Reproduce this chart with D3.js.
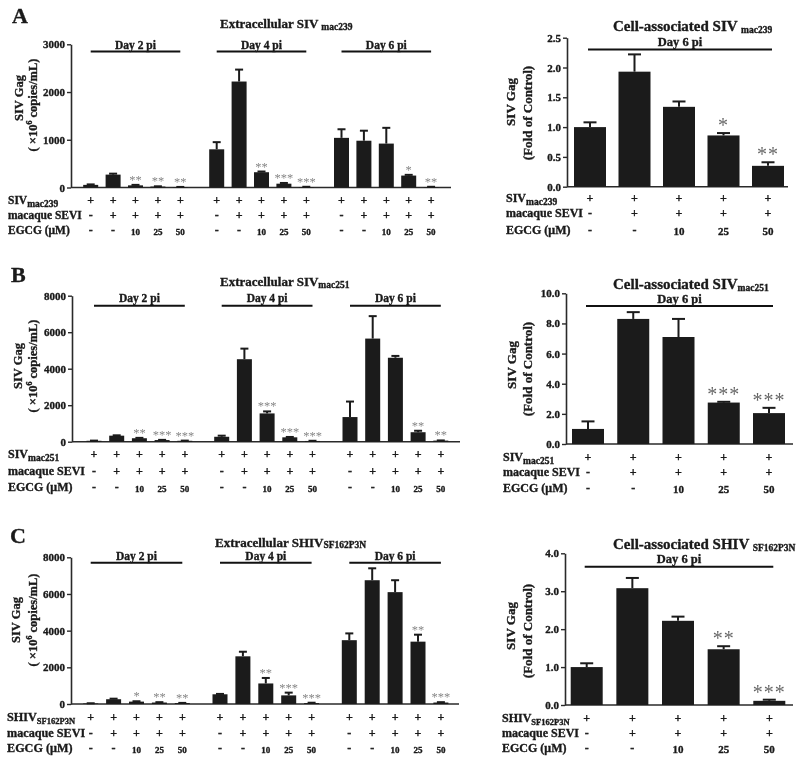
<!DOCTYPE html>
<html><head><meta charset="utf-8">
<script src="https://cdn.jsdelivr.net/npm/d3@7"></script>
<style>
body{margin:0;background:#fff}
svg{display:block;filter:grayscale(1)}
text{font-family:"Liberation Serif","Times New Roman",serif;font-weight:bold;fill:#1a1a1a;stroke:#1a1a1a;stroke-width:0.35px}
text.star{stroke:none}
</style>
</head><body>
<svg id="c" width="800" height="762"></svg>
<script>
// ---------- data ----------
const days = ["Day 2 pi", "Day 4 pi", "Day 6 pi"];
const virusRow = ["+", "+", "+", "+", "+"];
const seviRow = ["-", "+", "+", "+", "+"];
const egcgRow = ["-", "-", "10", "25", "50"];
const rowNames = ["macaque SEVI", "EGCG (\u03bcM)"];

// Panel A: extracellular SIVmac239 (x10^6 copies/mL), per day
const extA = [[55, 270, 45, 20, 10], [800, 2220, 320, 80, 10], [1040, 980, 920, 250, 10]];
const extAErr = [[65, 290, 55, 25, 12], [950, 2470, 335, 95, 15], [1220, 1190, 1250, 265, 15]];
const extAStars = [["", "", "**", "**", "**"], ["", "", "**", "***", "***"], ["", "", "", "*", "**"]];
const extATicks = [0, 1000, 2000, 3000];
// Panel A: cell-associated (fold of control)
const cellA = [1.0, 1.93, 1.34, 0.86, 0.35];
const cellAErr = [1.08, 2.22, 1.43, 0.90, 0.41];
const cellAStars = ["", "", "", "*", "**"];
const cellATicks = [0, 0.5, 1.0, 1.5, 2.0, 2.5];

// Panel B: SIVmac251
const extB = [[50, 330, 190, 90, 50], [270, 4520, 1550, 240, 40], [1350, 5650, 4600, 520, 60]];
const extBErr = [[60, 350, 210, 100, 60], [330, 5100, 1660, 260, 50], [2200, 6880, 4700, 600, 70]];
const extBStars = [["", "", "**", "***", "***"], ["", "", "***", "***", "***"], ["", "", "", "**", "**"]];
const extBTicks = [0, 2000, 4000, 6000, 8000];
const cellB = [1.0, 8.3, 7.1, 2.75, 2.05];
const cellBErr = [1.5, 8.75, 8.3, 2.8, 2.4];
const cellBStars = ["", "", "", "***", "***"];
const cellBTicks = [0, 2, 4, 6, 8, 10];

// Panel C: SHIVSF162P3N
const extC = [[30, 260, 130, 80, 50], [530, 2600, 1120, 470, 50], [3480, 6750, 6100, 3400, 80]];
const extCErr = [[40, 290, 150, 100, 60], [550, 2850, 1420, 620, 70], [3850, 7400, 6750, 3780, 100]];
const extCStars = [["", "", "*", "**", "**"], ["", "", "**", "***", "***"], ["", "", "", "**", "***"]];
const extCTicks = [0, 2000, 4000, 6000, 8000];
const cellC = [1.0, 3.08, 2.22, 1.47, 0.11];
const cellCErr = [1.1, 3.35, 2.33, 1.55, 0.14];
const cellCStars = ["", "", "", "**", "***"];
const cellCTicks = [0, 1, 2, 3, 4];

// ---------- drawing ----------
const svg = d3.select("#c");
const BAR = "#1b1b1b";
const AX = "#2a2a2a";

function subText(g, x, y, main, sub, fs, sfs, dy, anchor) {
  const t = g.append("text").attr("x", x).attr("y", y).attr("font-size", fs)
    .attr("text-anchor", anchor || "start");
  t.append("tspan").text(main);
  t.append("tspan").attr("font-size", sfs).attr("dy", dy).text(sub);
  return t;
}

function yLabel(g, x, y, fs) {
  return g.append("text").attr("transform", `translate(${x},${y}) rotate(-90)`)
    .attr("text-anchor", "middle").attr("font-size", fs);
}

function drawAxis(g, cfg, y) {
  const ax = d3.axisLeft(y).tickValues(cfg.ticks).tickSize(4).tickSizeOuter(0).tickPadding(2)
    .tickFormat(cfg.fmt);
  const ga = g.append("g").attr("transform", `translate(${cfg.axisX},0)`).call(ax);
  ga.select(".domain").attr("stroke", AX).attr("stroke-width", 1.6);
  ga.selectAll(".tick line").attr("stroke", AX).attr("stroke-width", 1.4);
  ga.selectAll(".tick text").attr("font-size", cfg.tickFs).attr("fill", "#1a1a1a");
  g.append("line").attr("x1", cfg.axisX).attr("x2", cfg.xEnd).attr("y1", cfg.y0).attr("y2", cfg.y0)
    .attr("stroke", AX).attr("stroke-width", 1.6);
}

function drawBars(g, xs, vals, errs, stars, y, bw, capw, starFs, starOp, starSp) {
  const sg = g.append("g").attr("opacity", starOp);
  vals.forEach((v, i) => {
    const cx = xs(i);
    g.append("rect").attr("x", cx - bw / 2).attr("y", y(v)).attr("width", bw)
      .attr("height", y(0) - y(v)).attr("fill", BAR);
    g.append("line").attr("x1", cx).attr("x2", cx).attr("y1", y(v)).attr("y2", y(errs[i]))
      .attr("stroke", BAR).attr("stroke-width", 2);
    g.append("line").attr("x1", cx - capw / 2).attr("x2", cx + capw / 2)
      .attr("y1", y(errs[i])).attr("y2", y(errs[i])).attr("stroke", BAR).attr("stroke-width", 2);
    if (stars[i]) {
      sg.append("text").attr("class", "star").attr("x", cx).attr("y", y(errs[i]) - 1)
        .attr("text-anchor", "middle")
        .attr("font-size", starFs).attr("letter-spacing", starSp).style("fill", "#000")
        .style("font-weight", "normal").text(stars[i]);
    }
  });
}

function drawRows(g, cfg, centers) {
  subText(g, cfg.rowX, cfg.rowY[0], cfg.virusMain, cfg.virusSub, cfg.rowFs, cfg.rowSubFs, 3);
  g.append("text").attr("x", cfg.rowX).attr("y", cfg.rowY[1]).attr("font-size", cfg.rowFs).text(rowNames[0]);
  g.append("text").attr("x", cfg.rowX).attr("y", cfg.rowY[2]).attr("font-size", cfg.rowFs).text(rowNames[1]);
  const rows = [virusRow, seviRow, egcgRow];
  centers.forEach(cx => {
    rows.forEach((r, k) => {
      r.forEach((s, i) => {
        const isNum = s.length > 1;
        g.append("text").attr("x", cx(i)).attr("y", cfg.rowY[k] + (isNum ? 0.5 : 0))
          .attr("text-anchor", "middle")
          .attr("font-size", isNum ? cfg.numFs : cfg.symFs).text(s);
      });
    });
  });
}

function extPanel(cfg) {
  const g = svg.append("g");
  const y = d3.scaleLinear().domain([0, cfg.ymax]).range([cfg.y0, cfg.y1]);
  drawAxis(g, cfg, y);
  const groups = cfg.groupStarts.map(s => d3.scaleLinear().domain([0, 4]).range([s, s + 4 * cfg.step]));
  groups.forEach((xs, gi) => {
    drawBars(g, xs, cfg.vals[gi], cfg.errs[gi], cfg.stars[gi], y, 15, 8, 12.5, 0.5, 0);
    g.append("line").attr("x1", xs(0)).attr("x2", xs(4)).attr("y1", cfg.lineY).attr("y2", cfg.lineY)
      .attr("stroke", "#111").attr("stroke-width", 2);
    g.append("text").attr("x", (xs(0) + xs(4)) / 2).attr("y", cfg.dayY).attr("text-anchor", "middle")
      .attr("font-size", 11.5).text(days[gi]);
  });
  drawRows(g, cfg, groups);
  subText(g, cfg.title.x, cfg.title.y, cfg.title.main, cfg.title.sub, 13, 9.5, cfg.title.dy);
  yLabel(g, cfg.ylab[0], cfg.ylab[1], 12.5).text("SIV Gag");
  const t2 = yLabel(g, cfg.ylab[2], cfg.ylab[3], 12.5);
  t2.append("tspan").text("( \u00d710");
  t2.append("tspan").attr("font-size", 8).attr("dy", -5).text("6");
  t2.append("tspan").attr("dy", 5).text(" copies/mL)");
  g.append("text").attr("x", cfg.letter[0]).attr("y", cfg.letter[1]).attr("font-size", 22)
    .text(cfg.letter[2]);
}

function cellPanel(cfg) {
  const g = svg.append("g");
  const y = d3.scaleLinear().domain([0, cfg.ymax]).range([cfg.y0, cfg.y1]);
  drawAxis(g, cfg, y);
  const xs = d3.scaleLinear().domain([0, 4]).range(cfg.centers);
  drawBars(g, xs, cfg.vals, cfg.errs, cfg.stars, y, 32, 13, 20, 0.62, 1);
  g.append("line").attr("x1", xs(0) - 2).attr("x2", xs(4) + 4).attr("y1", cfg.lineY).attr("y2", cfg.lineY)
    .attr("stroke", "#111").attr("stroke-width", 2);
  g.append("text").attr("x", (xs(0) + xs(4)) / 2 + 1).attr("y", cfg.dayY).attr("text-anchor", "middle")
    .attr("font-size", 12.5).text("Day 6 pi");
  subText(g, cfg.title.x, cfg.title.y, cfg.title.main, cfg.title.sub, 15, 9.5, 2);
  drawRows(g, cfg, [xs]);
  yLabel(g, cfg.ylab[0], cfg.ylab[1], 13).text("SIV Gag");
  yLabel(g, cfg.ylab[2], cfg.ylab[3], 13).text("(Fold of Control)");
}

const fInt = d3.format("d");
const f1 = d3.format(".1f");

extPanel({axisX: 71, y0: 187.5, y1: 44.3, ymax: 3000, ticks: extATicks, fmt: fInt, tickFs: 11, xEnd: 451,
  groupStarts: [90.7, 216.7, 341.5], step: 22.4, vals: extA, errs: extAErr, stars: extAStars,
  title: {x: 220, y: 28, main: "Extracellular SIV ", sub: "mac239", dy: 2}, dayY: 48.7, lineY: 51.5,
  ylab: [23, 98, 37, 105], rowX: 8, rowY: [204, 219, 234], rowFs: 11.5, rowSubFs: 9.5, symFs: 12, numFs: 9,
  virusMain: "SIV", virusSub: "mac239", letter: [12, 23, "A"]});
cellPanel({axisX: 567, y0: 186.7, y1: 37.7, ymax: 2.5, ticks: cellATicks, fmt: f1, tickFs: 11, xEnd: 788,
  centers: [590, 768], vals: cellA, errs: cellAErr, stars: cellAStars,
  title: {x: 613, y: 31, main: "Cell-associated SIV ", sub: "mac239"}, dayY: 46, lineY: 49.5,
  ylab: [515, 102, 532, 113], rowX: 506, rowY: [202, 217, 234], rowFs: 12, rowSubFs: 9.5, symFs: 12, numFs: 11,
  virusMain: "SIV", virusSub: "mac239"});

extPanel({axisX: 72, y0: 441.7, y1: 295.7, ymax: 8000, ticks: extBTicks, fmt: fInt, tickFs: 11, xEnd: 460,
  groupStarts: [94, 221.7, 350], step: 22.7, vals: extB, errs: extBErr, stars: extBStars,
  title: {x: 220, y: 285.7, main: "Extracellular SIV", sub: "mac251", dy: 2}, dayY: 301.7, lineY: 305.7,
  ylab: [22, 366, 37, 366], rowX: 8, rowY: [458, 475, 491], rowFs: 12, rowSubFs: 9.5, symFs: 12, numFs: 9,
  virusMain: "SIV", virusSub: "mac251", letter: [11, 282, "B"]});
cellPanel({axisX: 566, y0: 444, y1: 293.3, ymax: 10, ticks: cellBTicks, fmt: f1, tickFs: 11, xEnd: 793,
  centers: [588, 769], vals: cellB, errs: cellBErr, stars: cellBStars,
  title: {x: 613, y: 289, main: "Cell-associated SIV", sub: "mac251"}, dayY: 303, lineY: 306,
  ylab: [516, 365, 532, 369], rowX: 503, rowY: [461, 476, 492], rowFs: 12, rowSubFs: 9.5, symFs: 12, numFs: 11,
  virusMain: "SIV", virusSub: "mac251"});

extPanel({axisX: 71, y0: 704, y1: 557.3, ymax: 8000, ticks: extCTicks, fmt: fInt, tickFs: 11, xEnd: 459,
  groupStarts: [90.7, 220, 349.3], step: 22.9, vals: extC, errs: extCErr, stars: extCStars,
  title: {x: 215, y: 546.5, main: "Extracellular SHIV", sub: "SF162P3N", dy: 1}, dayY: 559.5, lineY: 562.7,
  ylab: [20, 620, 37, 620], rowX: 7, rowY: [721, 737, 752], rowFs: 12.2, rowSubFs: 8.5, symFs: 12, numFs: 9,
  virusMain: "SHIV", virusSub: "SF162P3N", letter: [10, 543, "C"]});
cellPanel({axisX: 565, y0: 705, y1: 553.3, ymax: 4, ticks: cellCTicks, fmt: f1, tickFs: 11, xEnd: 793,
  centers: [586.7, 769.3], vals: cellC, errs: cellCErr, stars: cellCStars,
  title: {x: 613, y: 549, main: "Cell-associated SHIV ", sub: "SF162P3N"}, dayY: 562.7, lineY: 566.7,
  ylab: [515, 626, 532, 631], rowX: 502, rowY: [722, 737, 752], rowFs: 12, rowSubFs: 8.5, symFs: 12, numFs: 11,
  virusMain: "SHIV", virusSub: "SF162P3N"});
</script>
</body></html>
